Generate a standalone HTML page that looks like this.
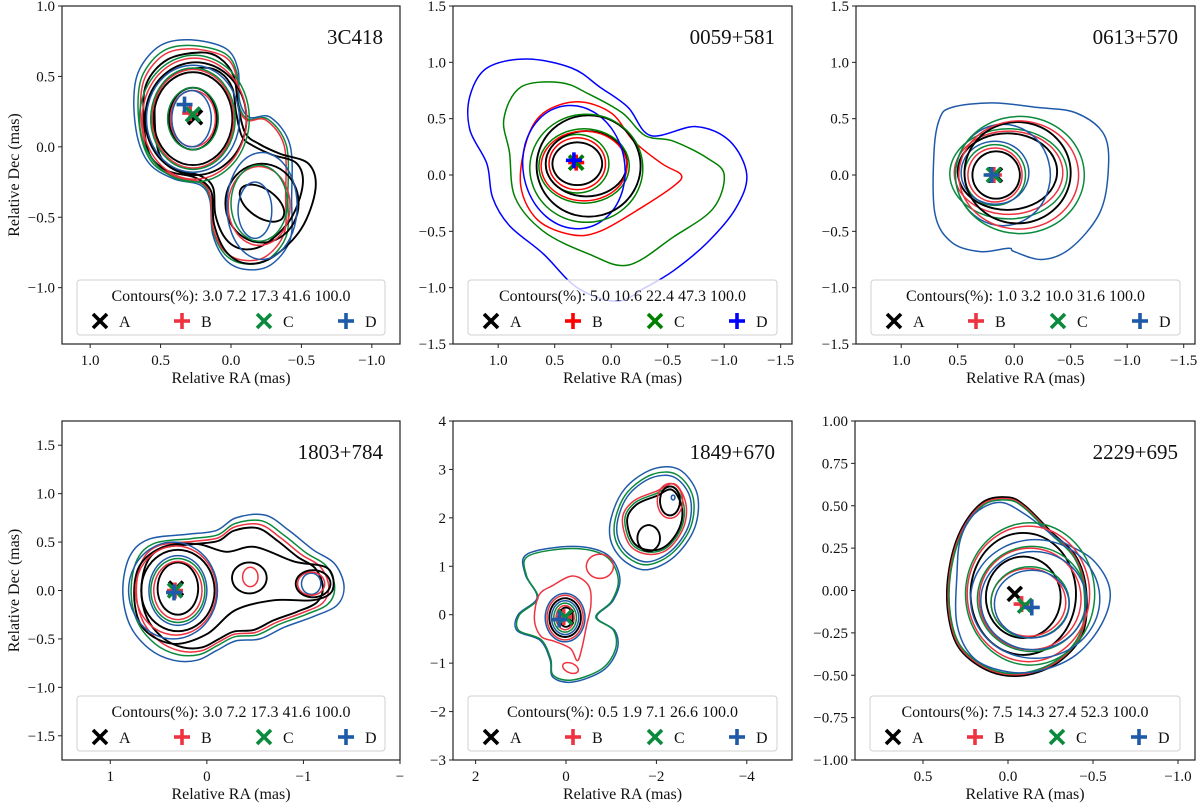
<!DOCTYPE html>
<html><head><meta charset="utf-8">
<style>
html,body{margin:0;padding:0;background:#fff;}
svg{display:block;font-family:"Liberation Serif","DejaVu Serif",serif;}
</style></head>
<body>
<svg id="fig" width="1200" height="803" viewBox="0 0 1200 803" xmlns="http://www.w3.org/2000/svg"></svg>
<script>
// ---------- data ----------
const panelNames = ["3C418","0059+581","0613+570","1803+784","1849+670","2229+695"];
const contourLevels = ["3.0 7.2 17.3 41.6 100.0","5.0 10.6 22.4 47.3 100.0","1.0 3.2 10.0 31.6 100.0","3.0 7.2 17.3 41.6 100.0","0.5 1.9 7.1 26.6 100.0","7.5 14.3 27.4 52.3 100.0"];
const xTicks = [[1.0,0.5,0.0,-0.5,-1.0],[1.0,0.5,0.0,-0.5,-1.0,-1.5],[1.0,0.5,0.0,-0.5,-1.0,-1.5],[1,0,-1,-2],[2,0,-2,-4],[0.5,0.0,-0.5,-1.0]];
const xTickLabels = [["1.0","0.5","0.0","−0.5","−1.0"],["1.0","0.5","0.0","−0.5","−1.0","−1.5"],["1.0","0.5","0.0","−0.5","−1.0","−1.5"],["1","0","−1","−"],["2","0","−2","−4"],["0.5","0.0","−0.5","−1.0"]];
const yTicks = [[1.0,0.5,0.0,-0.5,-1.0],[1.5,1.0,0.5,0.0,-0.5,-1.0,-1.5],[1.5,1.0,0.5,0.0,-0.5,-1.0,-1.5],[1.5,1.0,0.5,0.0,-0.5,-1.0,-1.5],[4,3,2,1,0,-1,-2,-3],[1.0,0.75,0.5,0.25,0,-0.25,-0.5,-0.75,-1.0]];
const yTickLabels = [["1.0","0.5","0.0","−0.5","−1.0"],["1.5","1.0","0.5","0.0","−0.5","−1.0","−1.5"],["1.5","1.0","0.5","0.0","−0.5","−1.0","−1.5"],["1.5","1.0","0.5","0.0","−0.5","−1.0","−1.5"],["4","3","2","1","0","−1","−2","−3"],["1.00","0.75","0.50","0.25","0.00","−0.25","−0.50","−0.75","−1.00"]];
const xLims = [[1.2,-1.2],[1.4,-1.6],[1.4,-1.6],[1.5,-2.0],[2.5,-5.0],[0.9,-1.1]];
const yLims = [[-1.4,1.0],[-1.5,1.5],[-1.5,1.5],[-1.75,1.75],[-3,4],[-1,1]];
// marker positions [ra,dec] for A,B,C,D
const markA = [[0.255,0.21],[0.31,0.11],[0.17,0.0],[0.32,0.02],[0.0,-0.05],[-0.04,-0.02]];
const markB = [[0.29,0.24],[0.31,0.11],[0.18,0.0],[0.33,0.0],[0.05,-0.05],[-0.08,-0.08]];
const markC = [[0.27,0.23],[0.31,0.11],[0.18,0.0],[0.33,0.0],[0.02,-0.05],[-0.1,-0.09]];
const markD = [[0.33,0.30],[0.33,0.13],[0.2,0.0],[0.34,-0.02],[0.15,-0.1],[-0.14,-0.1]];
// named polygons (data units: ra, dec)
const polys = {
 p1blue:[[0.29,0.76],[0.50,0.72],[0.65,0.55],[0.69,0.33],[0.66,0.05],[0.57,-0.13],[0.40,-0.23],[0.22,-0.27],[0.15,-0.38],[0.13,-0.62],[0.04,-0.80],[-0.10,-0.87],[-0.28,-0.84],[-0.42,-0.66],[-0.43,-0.38],[-0.42,0.01],[-0.28,0.21],[-0.13,0.21],[-0.06,0.33],[-0.05,0.55],[0.04,0.70]],
 p1black:[[0.22,0.67],[0.45,0.62],[0.60,0.45],[0.62,0.2],[0.58,-0.05],[0.45,-0.17],[0.25,-0.22],[0.14,-0.32],[0.12,-0.55],[0.03,-0.75],[-0.12,-0.83],[-0.3,-0.78],[-0.5,-0.58],[-0.6,-0.3],[-0.55,-0.12],[-0.35,-0.05],[-0.2,0.02],[-0.1,0.1],[-0.05,0.3],[-0.02,0.5],[0.08,0.63]],
 p2red:[[0.75,0.3],[0.6,0.55],[0.3,0.65],[0.0,0.55],[-0.2,0.3],[-0.45,0.1],[-0.62,0],[-0.55,-0.1],[-0.25,-0.3],[0.1,-0.5],[0.35,-0.53],[0.65,-0.4],[0.8,-0.1]],
 p2green:[[0.95,0.5],[0.8,0.78],[0.45,0.82],[0.2,0.72],[-0.1,0.55],[-0.3,0.35],[-0.55,0.3],[-0.85,0.15],[-1.0,0],[-0.9,-0.3],[-0.55,-0.55],[-0.15,-0.8],[0.2,-0.7],[0.6,-0.5],[0.85,-0.2],[0.9,0.2]],
 p2blue:[[1.25,0.7],[1.1,0.95],[0.75,1.03],[0.35,0.95],[0.1,0.78],[-0.15,0.6],[-0.35,0.35],[-0.75,0.43],[-1.05,0.3],[-1.2,0],[-1.1,-0.3],[-0.85,-0.6],[-0.55,-0.85],[-0.3,-1.0],[-0.05,-1.12],[0.3,-1.0],[0.6,-0.7],[0.9,-0.45],[1.05,-0.2],[1.1,0.1],[1.25,0.4]],
 p3blue:[[0.55,0.6],[0.2,0.64],[-0.2,0.6],[-0.55,0.55],[-0.8,0.35],[-0.83,0],[-0.75,-0.35],[-0.5,-0.65],[-0.25,-0.75],[0.0,-0.68],[0.05,-0.65],[0.3,-0.68],[0.55,-0.6],[0.7,-0.35],[0.71,0.2],[0.66,0.5]],
 p4blue:[[0.8,0.35],[0.6,0.53],[0.2,0.58],[-0.1,0.62],[-0.3,0.75],[-0.6,0.78],[-0.85,0.62],[-1.1,0.42],[-1.32,0.28],[-1.42,0.05],[-1.35,-0.15],[-1.1,-0.27],[-0.8,-0.38],[-0.55,-0.5],[-0.3,-0.52],[-0.1,-0.62],[0.1,-0.72],[0.35,-0.72],[0.6,-0.6],[0.8,-0.35],[0.87,0.0]],
 p4mid:[[0.7,0.25],[0.45,0.45],[0.1,0.48],[-0.2,0.4],[-0.5,0.45],[-0.9,0.3],[-1.25,0.23],[-1.3,0],[-1.1,-0.1],[-0.7,-0.1],[-0.3,-0.2],[0.0,-0.45],[0.35,-0.55],[0.65,-0.4],[0.75,-0.1]],
 p5sw:[[0.86,1.25],[-0.15,1.41],[-0.9,1.25],[-1.19,0.77],[-1.04,0.29],[-0.68,-0.05],[-1.08,-0.33],[-1.13,-0.73],[-0.82,-1.15],[-0.15,-1.39],[0.29,-1.29],[0.35,-0.94],[0.57,-0.53],[1.08,-0.33],[1.06,0],[0.64,0.35],[0.9,0.83]],
 p5red:[[0.7,-0.1],[0.6,0.4],[0.3,0.6],[-0.15,0.8],[-0.5,0.6],[-0.55,0.2],[-0.45,-0.25],[-0.35,-0.7],[-0.25,-0.95],[-0.1,-0.7],[0.25,-0.55],[0.55,-0.45]],
 p5ne:[[-1.0,2.0],[-1.3,2.6],[-1.9,3.0],[-2.5,3.0],[-2.9,2.5],[-2.85,1.8],[-2.4,1.2],[-1.8,0.93],[-1.3,1.1],[-1.0,1.5]],
 p5neIn:[[-1.25,2.0],[-1.5,2.35],[-2.0,2.55],[-2.4,2.7],[-2.65,2.3],[-2.6,1.8],[-2.25,1.35],[-1.8,1.25],[-1.4,1.45]],
 p6black:[[0.28,0.35],[0.15,0.52],[0.0,0.55],[-0.1,0.5],[-0.25,0.35],[-0.4,0.2],[-0.46,0.0],[-0.44,-0.25],[-0.3,-0.42],[-0.1,-0.5],[0.1,-0.48],[0.28,-0.35],[0.35,-0.15],[0.35,0.1]],
 p6blue:[[0.2,0.45],[0.05,0.52],[-0.1,0.45],[-0.3,0.3],[-0.5,0.18],[-0.6,0.0],[-0.55,-0.2],[-0.4,-0.38],[-0.2,-0.47],[0.0,-0.48],[0.2,-0.4],[0.3,-0.2],[0.3,0.1],[0.28,0.3]]
};
// contours: [color,'e',cx,cy,rx,ry,rotDeg] or [color,'p',polyName,scale,ox,oy]
const contours = [
 [ ['b','p','p1blue',1,0,0],['g','p','p1blue',0.95,0.1,-0.05],['r','p','p1blue',0.92,0.1,-0.05],['k','p','p1black',1,0,0],['k','p','p1black',0.86,0.05,-0.1],
   ['k','e',0.27,0.2,0.17,0.22,0],['k','e',0.27,0.2,0.28,0.33,0],['k','e',0.25,0.2,0.36,0.40,0],
   ['r','e',0.27,0.2,0.16,0.2,0],['r','e',0.27,0.2,0.29,0.35,0],['r','e',0.26,0.2,0.37,0.43,0],
   ['g','e',0.27,0.2,0.18,0.22,0],['g','e',0.27,0.2,0.30,0.36,0],['g','e',0.26,0.2,0.39,0.45,0],
   ['b','e',0.28,0.2,0.14,0.2,0],['b','e',0.27,0.2,0.33,0.38,0],
   ['k','e',-0.22,-0.4,0.18,0.1,35],['k','e',-0.22,-0.4,0.26,0.28,0],['r','e',-0.2,-0.42,0.22,0.28,0],['g','e',-0.2,-0.4,0.2,0.27,0],
   ['b','e',-0.17,-0.45,0.12,0.2,0],['b','e',-0.22,-0.42,0.25,0.38,0] ],
 [ ['b','p','p2blue',1,0,0],['g','p','p2green',1,0,0],['r','p','p2red',1,0,0],
   ['k','e',0.3,0.1,0.22,0.19,0],['r','e',0.3,0.1,0.25,0.23,0],['g','e',0.3,0.1,0.28,0.26,0],
   ['k','e',0.22,0.1,0.36,0.29,0],['r','e',0.24,0.08,0.38,0.31,0],['g','e',0.24,0.08,0.4,0.33,0],
   ['b','e',0.33,0.07,0.45,0.55,-10],['k','e',0.2,0.08,0.46,0.45,0],['g','e',0.22,0.06,0.5,0.48,0] ],
 [ ['b','p','p3blue',1,0,0],
   ['k','e',0.16,0,0.21,0.21,0],['r','e',0.17,0,0.24,0.24,0],['g','e',0.17,0,0.27,0.27,0],['b','e',0.17,0.02,0.3,0.28,0],
   ['k','e',0.06,0.03,0.44,0.34,0],['r','e',0.05,0.02,0.48,0.37,0],['g','e',0.05,0.01,0.52,0.4,0],['b','e',0.1,0,0.42,0.45,0],
   ['k','e',-0.03,0.02,0.47,0.45,0],['r','e',-0.04,0,0.53,0.48,0],['g','e',-0.05,0,0.57,0.52,0] ],
 [ ['b','p','p4blue',1,0,0],['g','p','p4blue',0.92,-0.2,0.02],['r','p','p4blue',0.87,-0.2,0.02],['k','p','p4blue',0.82,-0.2,0.02],['k','p','p4mid',1,0,0],
   ['k','e',0.3,0.02,0.21,0.27,0],['r','e',0.3,0,0.25,0.3,0],['g','e',0.3,0,0.28,0.33,0],['b','e',0.3,0,0.3,0.36,0],
   ['k','e',0.3,0,0.38,0.42,0],['r','e',0.32,0,0.42,0.46,0],['b','e',0.35,0,0.46,0.5,0],
   ['k','e',-0.44,0.13,0.18,0.16,0],['r','e',-0.45,0.14,0.08,0.1,0],['b','e',-1.08,0.07,0.1,0.11,0],['r','e',-1.08,0.07,0.14,0.12,0],['k','e',-1.1,0.07,0.18,0.14,0] ],
 [ ['b','p','p5sw',1,0,0],['g','p','p5sw',0.97,0,0],['r','p','p5red',1,0,0],['r','e',-0.75,1.0,0.3,0.25,0],['r','e',-0.1,-1.1,0.18,0.1,20],
   ['k','e',0.0,-0.05,0.15,0.2,0],['r','e',0.02,-0.06,0.2,0.25,0],['g','e',0.02,-0.06,0.25,0.3,0],['b','e',0.02,-0.06,0.3,0.35,0],['k','e',0.02,-0.06,0.35,0.4,0],['r','e',0.02,-0.06,0.4,0.46,0],['b','e',0.02,-0.06,0.44,0.5,0],
   ['b','p','p5ne',1,0,0],['g','p','p5ne',0.9,-1.95,1.95],['b','p','p5ne',0.84,-1.95,1.95],['r','p','p5neIn',1,0,0],['g','p','p5neIn',0.93,-2.0,1.9],['k','p','p5neIn',0.86,-2.0,1.85],
   ['k','e',-1.83,1.58,0.25,0.27,0],['k','e',-2.3,2.35,0.22,0.3,0],['r','e',-2.3,2.35,0.28,0.36,0],['b','e',-2.37,2.42,0.04,0.05,0] ],
 [ ['k','p','p6black',1,0,0],['r','p','p6black',0.985,-0.05,0],['g','p','p6black',0.97,-0.05,0],['b','p','p6blue',1,0,0],
   ['k','e',-0.09,-0.04,0.22,0.24,0],['k','e',-0.09,-0.02,0.31,0.36,0],
   ['r','e',-0.12,-0.07,0.22,0.2,0],['r','e',-0.13,-0.05,0.3,0.3,0],['r','e',-0.12,-0.02,0.36,0.4,0],
   ['g','e',-0.13,-0.07,0.23,0.21,0],['g','e',-0.14,-0.05,0.32,0.31,0],['g','e',-0.13,-0.02,0.38,0.42,0],
   ['b','e',-0.14,-0.08,0.22,0.2,0],['b','e',-0.15,-0.06,0.31,0.29,0],['b','e',-0.16,-0.05,0.38,0.35,0] ]
];
// ---------- layout ----------
const boxes = [[62,6,338,338],[453,6,339,338],[856,6,339,338],[62,421,338,339],[453,421,339,339],[855,421,340,339]];
const palStd = {k:'#000000',r:'#ee3340',g:'#0b8a3e',b:'#1f5aa8'};
const pal2 = {k:'#000000',r:'#ff0000',g:'#008000',b:'#0000ff'};
const NS = 'http://www.w3.org/2000/svg';
const svg = document.getElementById('fig');
function mk(tag, attrs, parent){ const e=document.createElementNS(NS,tag); for(const k in attrs) e.setAttribute(k,attrs[k]); (parent||svg).appendChild(e); return e; }
function crPath(pts){ // closed catmull-rom
 const n=pts.length; let d='M'+pts[0][0].toFixed(1)+','+pts[0][1].toFixed(1);
 for(let i=0;i<n;i++){ const p0=pts[(i-1+n)%n],p1=pts[i],p2=pts[(i+1)%n],p3=pts[(i+2)%n];
  const c1=[p1[0]+(p2[0]-p0[0])/6,p1[1]+(p2[1]-p0[1])/6], c2=[p2[0]-(p3[0]-p1[0])/6,p2[1]-(p3[1]-p1[1])/6];
  d+='C'+c1[0].toFixed(1)+','+c1[1].toFixed(1)+' '+c2[0].toFixed(1)+','+c2[1].toFixed(1)+' '+p2[0].toFixed(1)+','+p2[1].toFixed(1); }
 return d+'Z'; }
panelNames.forEach((name,pi)=>{
 const [L,T,W,H]=boxes[pi], xl=xLims[pi], yl=yLims[pi];
 const X = ra => L + (xl[0]-ra)/(xl[0]-xl[1])*W;
 const Y = de => T + (yl[1]-de)/(yl[1]-yl[0])*H;
 const pal = pi===1?pal2:palStd;
 const g = mk('g',{});
 
 
 const cid='clip'+pi;
 const cp=mk('clipPath',{id:cid},g); mk('rect',{x:L,y:T,width:W,height:H},cp);
 const cg=mk('g',{'clip-path':'url(#'+cid+')'},g);
 contours[pi].forEach((c,ci)=>{
  let pts;
  if(c[1]==='e'){ const [,,cx,cy,rx,ry,rot]=c; const a=rot*Math.PI/180; pts=[];
   for(let k=0;k<24;k++){ const t=k/24*2*Math.PI; const u=rx*Math.cos(t), v=ry*Math.sin(t);
    pts.push([X(cx+u*Math.cos(a)-v*Math.sin(a)), Y(cy+u*Math.sin(a)+v*Math.cos(a))]); } }
  else { const [,,nm,s,ox,oy]=c; pts=polys[nm].map(p=>[X(ox+(p[0]-ox)*s),Y(oy+(p[1]-oy)*s)]); }
  const p=mk('path',{d:crPath(pts),fill:'none',stroke:pal[c[0]],'stroke-width':c[0]==='k'?1.9:1.5},cg);
  
  
 });
 // markers
 const drawMark=(type,col,x,y,parent,nm)=>{
  const m=mk('g',{stroke:col,'stroke-width':3.6,fill:'none'},parent);
  
  
  if(type==='x'){ mk('line',{x1:x-7,y1:y-7,x2:x+7,y2:y+7},m); mk('line',{x1:x-7,y1:y+7,x2:x+7,y2:y-7},m); }
  else { mk('line',{x1:x-8,y1:y,x2:x+8,y2:y},m); mk('line',{x1:x,y1:y-8,x2:x,y2:y+8},m); }
 };
 drawMark('x',pal.k,X(markA[pi][0]),Y(markA[pi][1]),cg,'marker-a');
 drawMark('+',pal.r,X(markB[pi][0]),Y(markB[pi][1]),cg,'marker-b');
 drawMark('x',pal.g,X(markC[pi][0]),Y(markC[pi][1]),cg,'marker-c');
 drawMark('+',pal.b,X(markD[pi][0]),Y(markD[pi][1]),cg,'marker-d');
 // frame
 const fr=mk('rect',{x:L,y:T,width:W,height:H,fill:'none',stroke:'#222','stroke-width':1.2},g);
 
 
 // ticks
 xTicks[pi].forEach((v,i)=>{ const x=X(v); mk('line',{x1:x,y1:T+H,x2:x,y2:T+H+4,stroke:'#222'},g);
  const t=mk('text',{x:x,y:T+H+21,'font-size':15,'text-anchor':'middle',fill:'#111'},g); t.textContent=xTickLabels[pi][i];
  
   });
 yTicks[pi].forEach((v,i)=>{ const y=Y(v); mk('line',{x1:L-4,y1:y,x2:L,y2:y,stroke:'#222'},g);
  const t=mk('text',{x:L-7,y:y+5,'font-size':15,'text-anchor':'end',fill:'#111'},g); t.textContent=yTickLabels[pi][i];
  
   });
 const xl2=mk('text',{x:L+W/2,y:T+H+39,'font-size':16,'text-anchor':'middle',fill:'#111'},g); xl2.textContent='Relative RA (mas)';
 
 
 if(pi===0||pi===3){ const yt=mk('text',{x:0,y:0,'font-size':16,'text-anchor':'middle',fill:'#111',transform:'translate(19,'+(T+H/2)+') rotate(-90)'},g); yt.textContent='Relative Dec (mas)';
  
   }
 const tt=mk('text',{x:L+W-17,y:T+38,'font-size':21,'text-anchor':'end',fill:'#111'},g); tt.textContent=name;
 
 
 // legend
 const lg=mk('g',{},g);
 
 
 const lx=L+15, lw=W-30, ly=T+H-64, lh=55;
 mk('rect',{x:lx,y:ly,width:lw,height:lh,rx:3,fill:'#fff','fill-opacity':0.8,stroke:'#d0d0d0'},lg);
 const lt=mk('text',{x:lx+lw/2,y:ly+21,'font-size':16,'text-anchor':'middle',fill:'#111'},lg); lt.textContent='Contours(%):  '+contourLevels[pi];
 
 
 [['x',pal.k,'A'],['+',pal.r,'B'],['x',pal.g,'C'],['+',pal.b,'D']].forEach((e,i)=>{
  const mx=lx+23+i*82, my=ly+41;
  drawMark(e[0],e[1],mx,my,lg,'legend-entry-'+e[2].toLowerCase());
  const te=mk('text',{x:mx+19,y:my+6,'font-size':16,fill:'#111'},lg); te.textContent=e[2];
  
  
 });
});
</script>
</body></html>
